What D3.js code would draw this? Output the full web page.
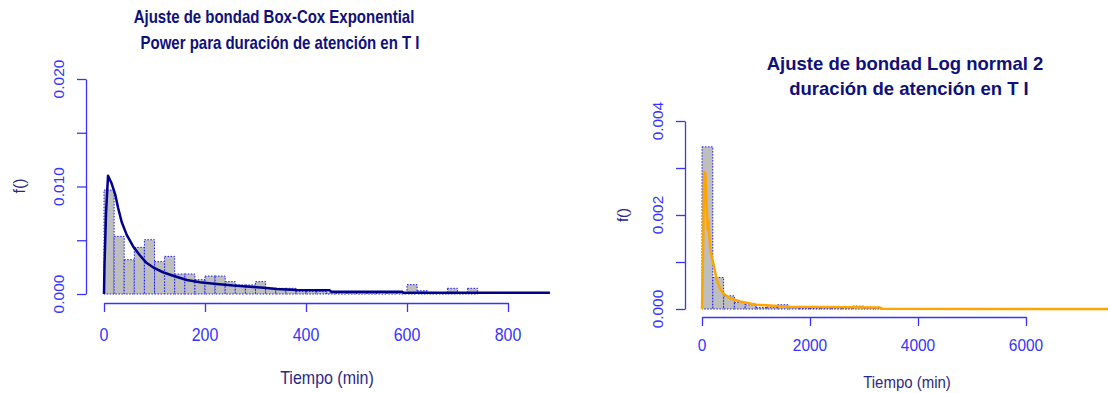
<!DOCTYPE html>
<html>
<head>
<meta charset="utf-8">
<script src="https://cdn.jsdelivr.net/npm/d3@7"></script>
<style>
  body { margin: 0; background: #fff; }
  text { font-family: "Liberation Sans", Arial, sans-serif; }
</style>
</head>
<body>
<script>
// histogram densities (bin width 20 min) for the Box-Cox panel
var leftBinWidth = 20;
var leftDensity = [0.00967, 0.00536, 0.00319, 0.00434, 0.00505, 0.00301, 0.00350, 0.00186,
    0.00186, 0.00133, 0.00167, 0.00167, 0.00115, 0.00084, 0.00084, 0.00115, 0.00053, 0.00053,
    0.00053, 0.00025, 0.00025, 0.00025, 0.00010, 0.00010, 0.00008, 0.00010, 0.00008, 0.00010,
    0.00008, 0.00010, 0.00087, 0.00030, 0.00015, 0.00010, 0.00053, 0.00010, 0.00053];
// fitted BCPE curve
var leftCurveX = [0, 1, 4, 8, 15, 22, 28, 35, 45, 58, 71, 84, 100, 118, 137, 164, 190, 223,
    256, 289, 322, 342, 382, 447, 450, 590, 593, 883];
var leftCurveY = [0, 0.0027, 0.0075, 0.0110, 0.0103, 0.0093, 0.0080, 0.0067, 0.0055, 0.0044,
    0.0036, 0.0029, 0.0024, 0.0020, 0.0017, 0.0013, 0.0011, 0.00093, 0.00078, 0.00068, 0.00056,
    0.00047, 0.00037, 0.00034, 0.00022, 0.00022, 0.00012, 0.00012];
var leftXTicks = [0, 200, 400, 600, 800];
var leftYTicks = [0, 0.005, 0.010, 0.015, 0.020];
var leftYLabels = ["0.000", "0.010", "0.020"];
var leftTitle = ["Ajuste de bondad Box-Cox Exponential", "Power para duración de atención en T I"];

// histogram densities (bin width 200 min) for the log normal panel
var rightBinWidth = 200;
var rightDensity = [0.00345, 0.00067, 0.00028, 0.00014, 0.00009, 0.00003, 0.00004, 0.00009,
    0.00003, 0.00001, 0.00001, 0.00001, 0.00001, 0.00001, 0.00006, 0.00001, 0.00001];
var rightCurveX = [0, 12, 43, 62, 80, 105, 117, 148, 179, 210, 272, 333, 395, 519, 704, 1012,
    1630, 3297, 3340, 7900];
var rightCurveY = [0, 0.00076, 0.00292, 0.00289, 0.0024, 0.00168, 0.00189, 0.00133, 0.00111,
    0.00097, 0.00062, 0.00044, 0.00033, 0.00023, 0.00016, 0.00009, 0.00005, 0.00003, 0.000005, 0];
var rightXTicks = [0, 2000, 4000, 6000];
var rightYTicks = [0, 0.001, 0.002, 0.003, 0.004];
var rightYLabels = ["0.000", "0.002", "0.004"];
var rightTitle = ["Ajuste de bondad Log normal 2", "duración de atención en T I"];

var axisCol = "#3535ff", titleCol = "#10107a", labCol = "#2a2a85";

var svg = d3.select("body").append("svg")
    .attr("width", 1108)
    .attr("height", 393);

// text that can be stretched vertically like the source image
function txt(g, s, x, y, size, sy, col, weight) {
    return g.append("text")
        .attr("transform", "translate(" + x + "," + y + ") scale(1," + sy + ")")
        .attr("text-anchor", "middle")
        .style("font-size", size + "px")
        .style("font-weight", weight || "normal")
        .attr("fill", col)
        .text(s);
}

function drawPanel(p) {
    var g = svg.append("g");
    var x = d3.scaleLinear().domain(p.xDomain).range(p.xRange);
    var y = d3.scaleLinear().domain(p.yDomain).range(p.yRange);

    g.append("defs").append("clipPath").attr("id", p.id + "clip")
        .append("rect")
        .attr("x", p.clip[0]).attr("y", 0)
        .attr("width", p.clip[1] - p.clip[0]).attr("height", 393);

    var plot = g.append("g").attr("clip-path", "url(#" + p.id + "clip)");

    // histogram bars
    plot.selectAll(".bar")
        .data(p.density)
        .enter().append("rect")
        .attr("class", "bar")
        .attr("x", function(d, i) { return x(i * p.binWidth); })
        .attr("width", function(d, i) { return x((i + 1) * p.binWidth) - x(i * p.binWidth); })
        .attr("y", function(d) { return y(d); })
        .attr("height", function(d) { return y(0) - y(d); })
        .attr("fill", "#bebebe")
        .attr("stroke", "#1a1aff")
        .attr("stroke-width", 1)
        .attr("stroke-dasharray", "1.5,1.5");

    // fitted density
    var pts = p.curveX.map(function(v, i) { return [v, p.curveY[i]]; });
    var line = d3.line()
        .x(function(d) { return x(d[0]); })
        .y(function(d) { return y(d[1]); });
    plot.append("path")
        .attr("d", line(pts))
        .attr("fill", "none")
        .attr("stroke", p.curveCol)
        .attr("stroke-width", 2.5)
        .attr("stroke-linejoin", "round");

    // axes
    var xa = g.append("g")
        .attr("transform", "translate(0," + p.xAxisY + ")")
        .call(d3.axisBottom(x).tickValues(p.xTicks).tickSize(9).tickSizeOuter(0).tickFormat(""));
    var ya = g.append("g")
        .attr("transform", "translate(" + p.yAxisX + ",0)")
        .call(d3.axisLeft(y).tickValues(p.yTicks).tickSize(9).tickSizeOuter(0).tickFormat(""));
    [xa, ya].forEach(function(a) {
        a.selectAll("path, line").attr("stroke", axisCol).attr("stroke-width", 1.3);
    });

    p.xTicks.forEach(function(v) {
        txt(g, v, x(v), p.xLabY, p.tickSize, p.sy, axisCol);
    });
    p.yLabels.forEach(function(s) {
        g.append("text")
            .attr("transform", "translate(" + p.yLabX + "," + y(+s) + ") rotate(-90)")
            .attr("text-anchor", "middle")
            .style("font-size", p.yTickSize + "px")
            .attr("fill", axisCol)
            .text(s);
    });

    txt(g, "Tiempo (min)", p.xTitle[0], p.xTitle[1], p.labSize, p.sy, labCol);
    g.append("text")
        .attr("transform", "translate(" + p.fLab[0] + "," + p.fLab[1] + ") rotate(-90)")
        .attr("text-anchor", "middle")
        .style("font-size", p.labSize + "px")
        .attr("fill", labCol)
        .text("f()");

    txt(g, p.title[0], p.t1[0], p.t1[1], p.titleSize, p.titleSy, titleCol, "bold");
    txt(g, p.title[1], p.t2[0], p.t2[1], p.titleSize, p.titleSy, titleCol, "bold");
}

drawPanel({
    id: "left", density: leftDensity, binWidth: leftBinWidth,
    curveX: leftCurveX, curveY: leftCurveY, curveCol: "#00008b",
    xDomain: [0, 800], xRange: [104, 508], yDomain: [0, 0.02], yRange: [294, 79],
    clip: [86, 571], xAxisY: 303, yAxisX: 86,
    xTicks: leftXTicks, yTicks: leftYTicks, yLabels: leftYLabels,
    xLabY: 341, yLabX: 64, tickSize: 16, yTickSize: 15.5, sy: 1.15,
    xTitle: [327, 384], labSize: 16, fLab: [25, 186],
    title: leftTitle, t1: [274, 23], t2: [280, 49], titleSize: 15, titleSy: 1.22
});

drawPanel({
    id: "right", density: rightDensity, binWidth: rightBinWidth,
    curveX: rightCurveX, curveY: rightCurveY, curveCol: "#ffa500",
    xDomain: [0, 6000], xRange: [702, 1026], yDomain: [0, 0.004], yRange: [309, 121],
    clip: [685, 1108], xAxisY: 317, yAxisX: 685,
    xTicks: rightXTicks, yTicks: rightYTicks, yLabels: rightYLabels,
    xLabY: 351, yLabX: 663, tickSize: 15.5, yTickSize: 15.3, sy: 1.05,
    xTitle: [907, 388], labSize: 15, fLab: [628, 215],
    title: rightTitle, t1: [905, 70], t2: [909, 95], titleSize: 18.5, titleSy: 1
});
</script>
</body>
</html>
